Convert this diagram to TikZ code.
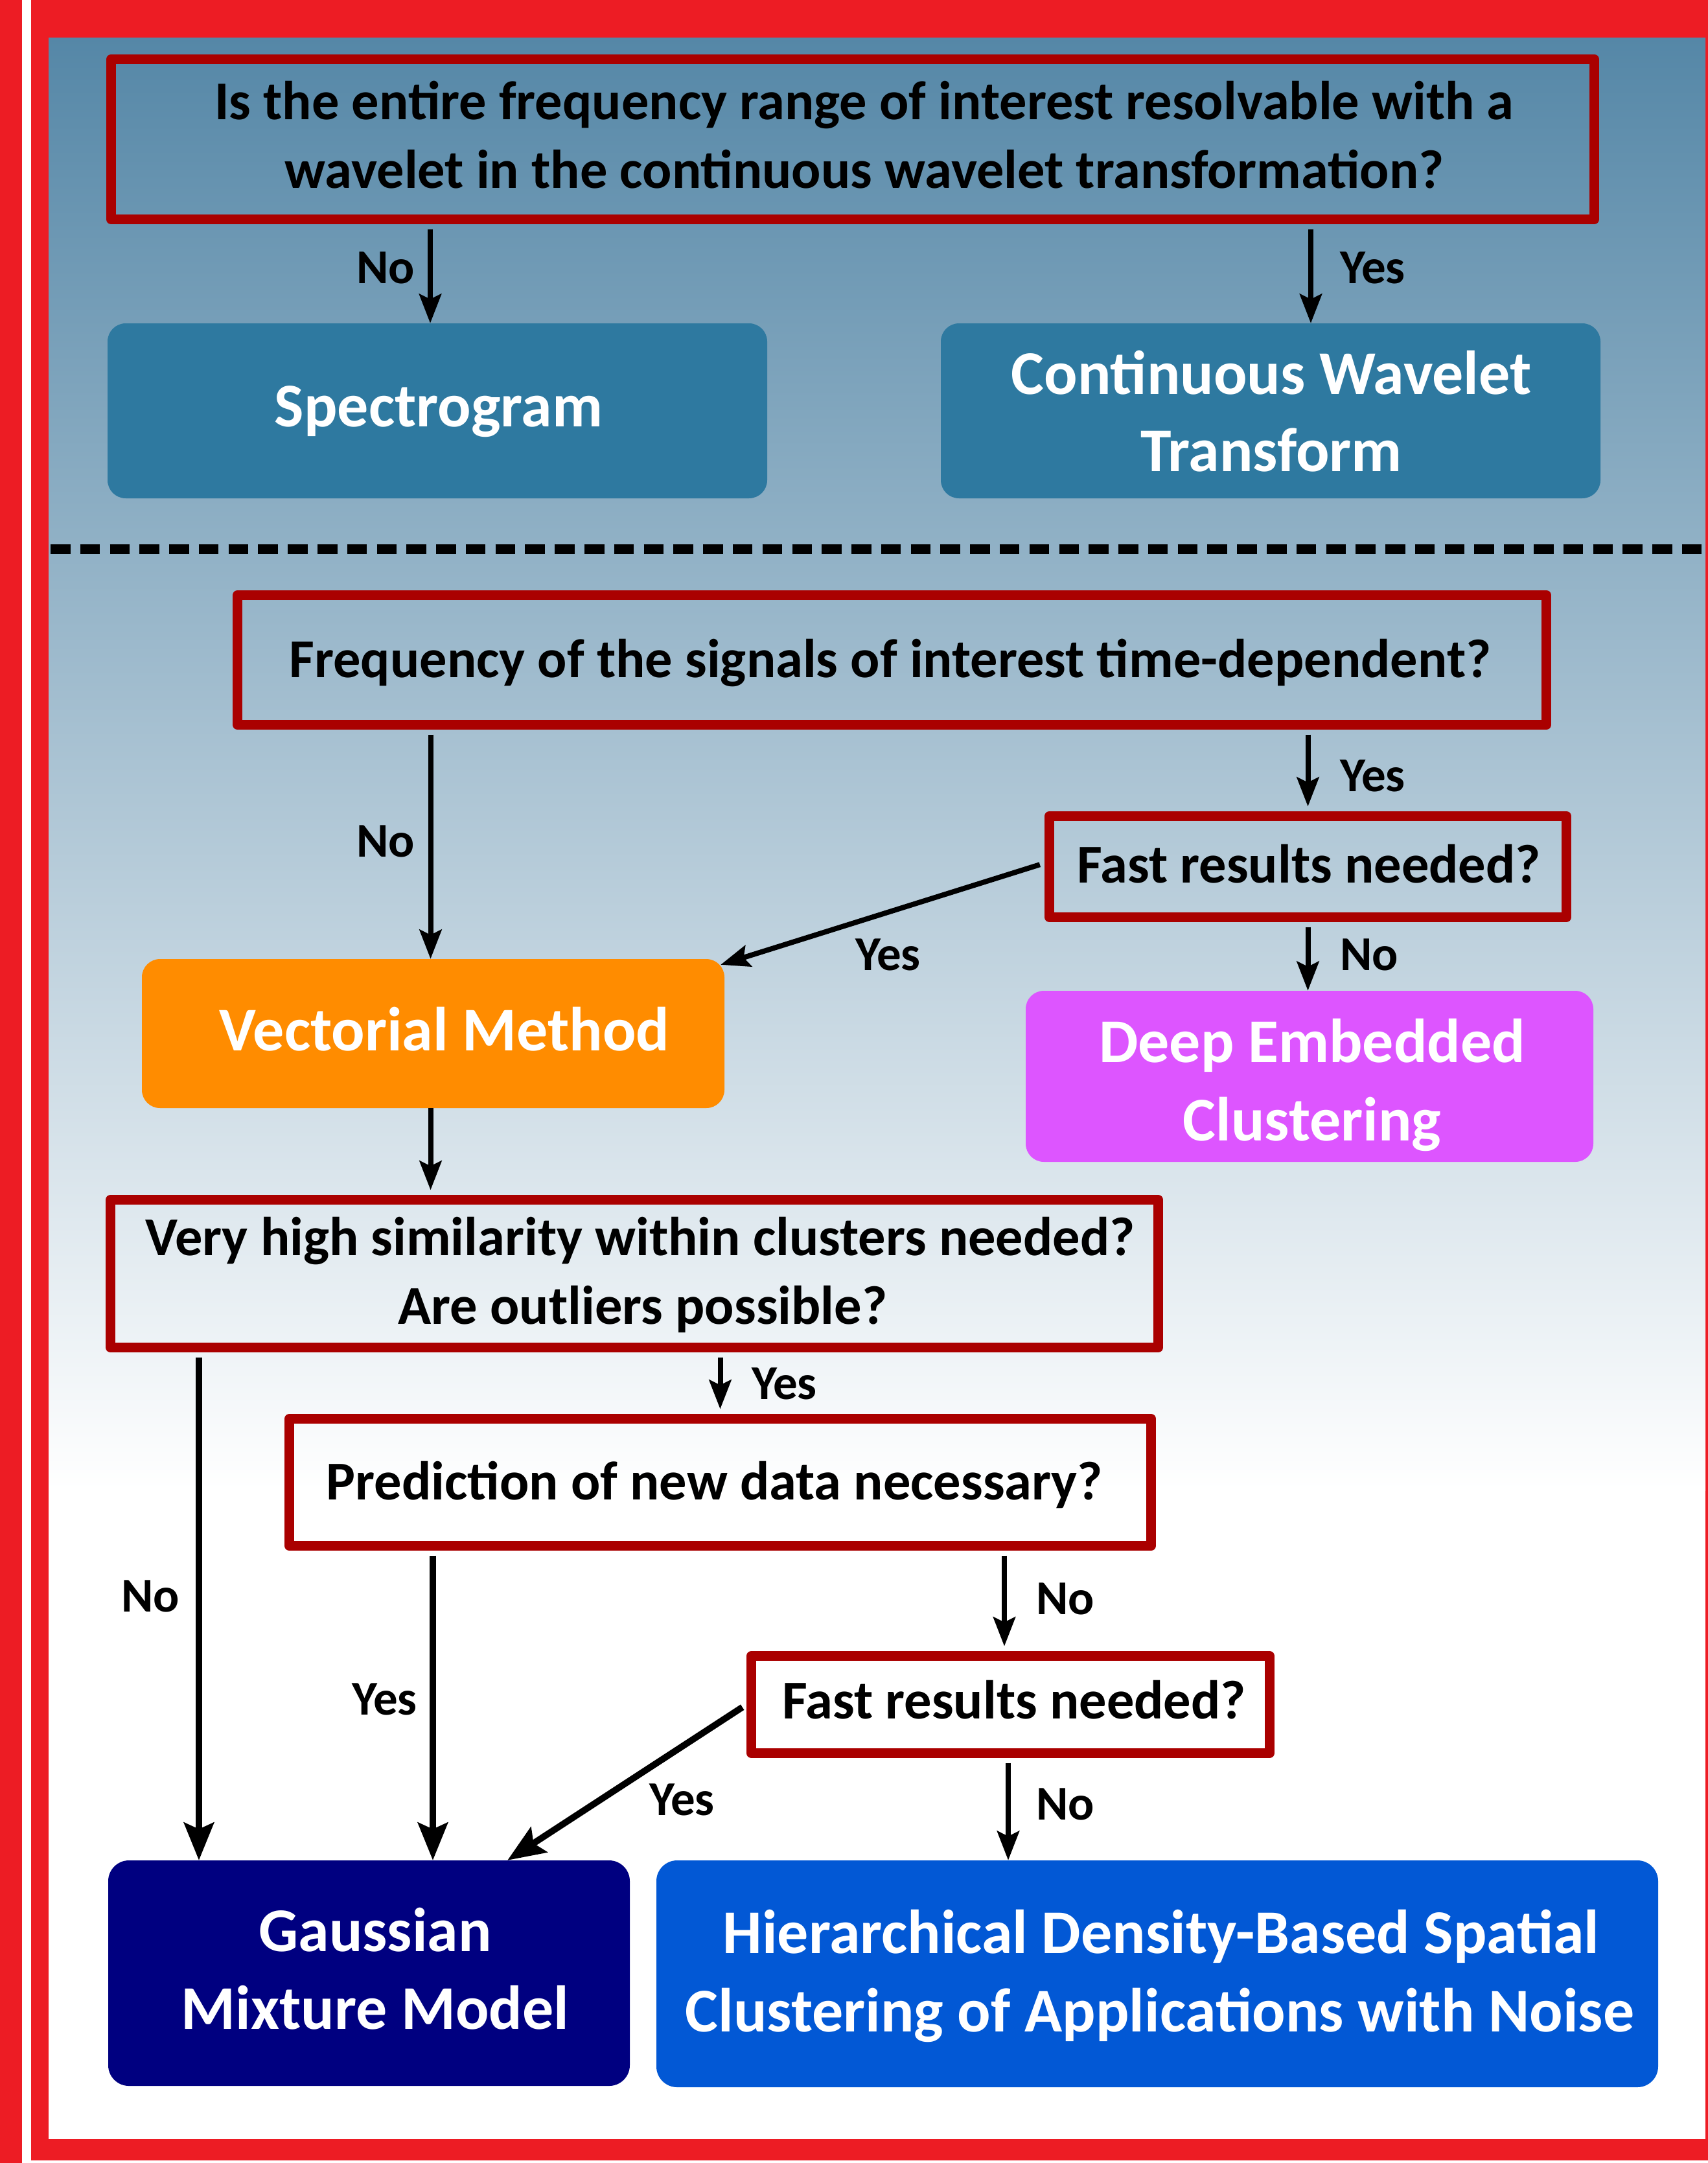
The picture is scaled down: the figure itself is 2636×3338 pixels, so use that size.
\documentclass[tikz,border=0pt]{standalone}
\usepackage{fontspec}
\setmainfont{Carlito}
\usetikzlibrary{arrows.meta}
\definecolor{framered}{HTML}{ED1C24}
\definecolor{qred}{HTML}{AA0000}
\definecolor{panelblue}{HTML}{5587A7}
\definecolor{specblue}{HTML}{2E79A0}
\definecolor{vorange}{HTML}{FF8C00}
\definecolor{decmag}{HTML}{DD55FF}
\definecolor{gmmnavy}{HTML}{000080}
\definecolor{hdbblue}{HTML}{0258D5}
\tikzset{
  qbox/.style={draw=qred, line width=15pt, line join=round, inner sep=0pt},
  rbox/.style={rounded corners=28pt, inner sep=0pt, draw=none},
  qtext/.style={inner sep=0pt, anchor=base, text=black, font=\bfseries\fontsize{84.5pt}{104pt}\selectfont},
  rtext/.style={inner sep=0pt, anchor=base, text=white, font=\bfseries\fontsize{96pt}{120pt}\selectfont},
  lbl/.style={inner sep=0pt, text=black, font=\bfseries\fontsize{75pt}{90pt}\selectfont},
  arr/.style={line width=8pt, -{Stealth[length=45pt,width=34pt,inset=8pt]}},
  arrbig/.style={line width=10pt, -{Stealth[length=58pt,width=46pt,inset=10pt]}},
  sepline/.style={line width=15pt, dash pattern=on 30.5pt off 15.28pt}
}
\begin{document}
\begin{tikzpicture}[x=1pt,y=-1pt]
\useasboundingbox (0,0) rectangle (2636,3338);
% frame
\fill[white] (0,0) rectangle (2636,3338);
\fill[framered] (0,0) rectangle (34,3338);
\fill[framered] (48,0) rectangle (2636,3334);
\shade[top color=panelblue, bottom color=white] (75,58) rectangle (2632,2300);
\fill[white] (75,2299) rectangle (2632,3301);
% separator
\draw[sepline] (78,847) -- (2632,847);

% boxes
\node[qbox, minimum width=2289pt, minimum height=247pt] (q1) at (1316,215) {};
\node[rbox, fill=specblue, minimum width=1018pt, minimum height=270pt] (spec) at (675,634) {};
\node[rbox, fill=specblue, minimum width=1018pt, minimum height=270pt] (cwt) at (1961,634) {};
\node[qbox, minimum width=2020pt, minimum height=200pt] (q2) at (1376.5,1018.5) {};
\node[qbox, minimum width=798pt, minimum height=156pt] (fast1) at (2018.5,1337.5) {};
\node[rbox, fill=vorange, minimum width=899pt, minimum height=230pt] (vect) at (668.5,1595) {};
\node[rbox, fill=decmag, minimum width=876pt, minimum height=264pt] (dec) at (2021,1661) {};
\node[qbox, minimum width=1617pt, minimum height=228pt] (q3) at (979,1965.5) {};
\node[qbox, minimum width=1330pt, minimum height=196pt] (q4) at (1111.5,2287.5) {};
\node[qbox, minimum width=800pt, minimum height=150pt] (fast2) at (1559.5,2630.5) {};
\node[rbox, rounded corners=32pt, fill=gmmnavy, minimum width=805pt, minimum height=348pt] (gmm) at (569.5,3045) {};
\node[rbox, rounded corners=32pt, fill=hdbblue, minimum width=1546pt, minimum height=350pt] (hdb) at (1786,3046) {};

% texts
\node[qtext] (q1a) at (1334,184) {Is the entire frequency range of interest resolvable with a};
\node[qtext] (q1b) at (1334,290) {wavelet in the continuous wavelet transformation?};
\node[rtext] (spect) at (677,658) {Spectrogram};
\node[rtext] (cwta) at (1962,608) {Continuous Wavelet};
\node[rtext] (cwtb) at (1962,727) {Transform};
\node[qtext] (q2t) at (1374,1045) {Frequency of the signals of interest time-dependent?};
\node[qtext] (fast1t) at (2020,1362) {Fast results needed?};
\node[rtext] (vectt) at (686,1621) {Vectorial Method};
\node[rtext] (deca) at (2025,1639) {Deep Embedded};
\node[rtext] (decb) at (2025,1760) {Clustering};
\node[qtext] (q3a) at (988,1937) {Very high similarity within clusters needed?};
\node[qtext] (q3b) at (992,2043) {Are outliers possible?};
\node[qtext] (q4t) at (1103,2314) {Prediction of new data necessary?};
\node[qtext] (fast2t) at (1565,2652) {Fast results needed?};
\node[rtext] (gmma) at (579,3011) {Gaussian};
\node[rtext] (gmmb) at (579,3131) {Mixture Model};
\node[rtext] (hdba) at (1792,3014) {Hierarchical Density-Based Spatial};
\node[rtext] (hdbb) at (1790,3135) {Clustering of Applications with Noise};

% connectors
\coordinate (c1) at ([xshift=-652pt]q1.south);
\draw[arr, shorten <=7.5pt] (c1) -- (c1 |- spec.north);
\coordinate (c2) at ([xshift=707pt]q1.south);
\draw[arr, shorten <=7.5pt] (c2) -- (c2 |- cwt.north);
\coordinate (c3) at ([xshift=-4pt]vect.north);
\draw[arr, shorten <=7.5pt] (c3 |- q2.south) -- (c3);
\draw[arr, shorten <=7.5pt, shorten >=7.5pt] (fast1.north |- q2.south) -- (fast1.north);
\draw[arr, shorten <=7.5pt] ([yshift=5.5pt]fast1.west) -- ([xshift=-6pt,yshift=-9pt]vect.north east);
\draw[arr, shorten <=7.5pt] (fast1.south) -- (fast1.south |- dec.north);
\draw[arr, shorten >=7.5pt] (c3 |- vect.south) -- (c3 |- q3.north);
\coordinate (c8) at ([xshift=-672pt]q3.south);
\draw[arrbig, shorten <=7.5pt] (c8) -- (c8 |- gmm.north);
\draw[arr, shorten <=7.5pt, shorten >=7.5pt] (q4.north |- q3.south) -- (q4.north);
\coordinate (c10) at ([xshift=-443.5pt]q4.south);
\draw[arrbig, shorten <=7.5pt] (c10) -- (c10 |- gmm.north);
\coordinate (c11) at ([xshift=-9.5pt]fast2.north);
\draw[arr, shorten <=7.5pt, shorten >=7.5pt] (c11 |- q4.south) -- (c11);
\draw[arrbig, shorten <=7.5pt] (fast2.west) -- ([xshift=-189pt]gmm.north east);
\coordinate (c13) at ([xshift=-3.5pt]fast2.south);
\draw[arr, shorten <=7.5pt] (c13) -- (c13 |- hdb.north);

% labels
\node[lbl, anchor=base east] (l1) at (640,437) {No};
\node[lbl, anchor=base west] (l2) at (2068,437) {Yes};
\node[lbl, anchor=base east] (l3) at (640,1322) {No};
\node[lbl, anchor=base west] (l4) at (2068,1221) {Yes};
\node[lbl, anchor=base west] (l5) at (1320,1497) {Yes};
\node[lbl, anchor=base west] (l6) at (2068,1497) {No};
\node[lbl, anchor=base west] (l7) at (187,2487) {No};
\node[lbl, anchor=base west] (l8) at (1160,2159) {Yes};
\node[lbl, anchor=base west] (l9) at (543,2646) {Yes};
\node[lbl, anchor=base west] (l10) at (1599,2491) {No};
\node[lbl, anchor=base west] (l11) at (1002,2801) {Yes};
\node[lbl, anchor=base west] (l12) at (1599,2808) {No};
\end{tikzpicture}
\end{document}
